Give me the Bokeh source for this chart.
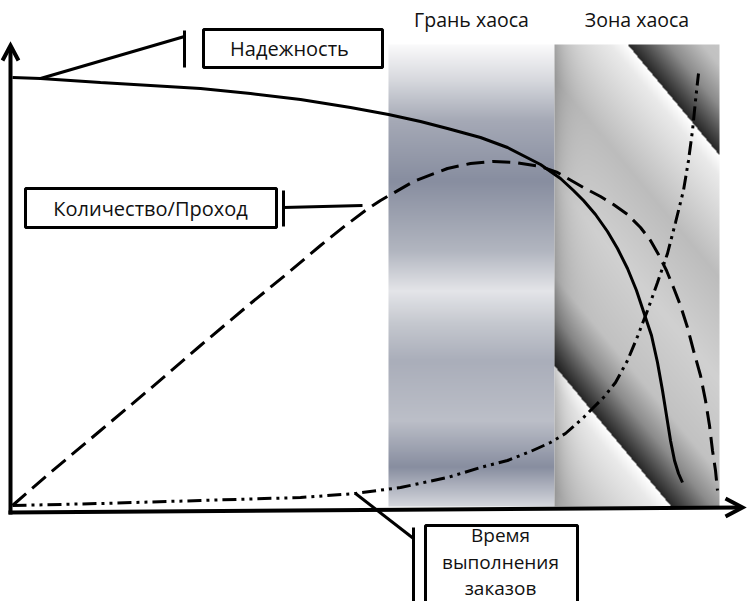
import numpy as np
from bokeh.plotting import figure
from bokeh.models import Range1d
from bokeh.embed import file_html
from bokeh.resources import INLINE
from bokeh.core.properties import value

# ---- data (conceptual units: x = load, y = level) ----
# Надежность (solid)
rel_x = [2, 30, 90, 140, 190, 240, 290, 340, 378, 410, 437, 470, 497, 530, 550, 563,
         573, 585, 597, 607, 617, 626, 634, 641, 647, 652, 656, 660, 664, 668, 672]
rel_y = [433, 432, 428, 425, 422, 417, 411, 403, 396, 389, 382, 373, 363, 346, 332, 320,
         310, 296, 279, 262, 242, 220, 196, 175, 148, 120, 95, 70, 50, 37, 28]
# Количество/Проход (dashed)
thr_x = [2, 40, 90, 140, 190, 240, 278, 310, 335, 355, 370, 403, 437, 460, 483, 505,
         530, 547, 573, 590, 603, 617, 630, 640, 648, 656, 663, 670, 677, 683, 690,
         695, 699, 702, 705, 707]
thr_y = [5, 38, 80, 122, 165, 207, 238, 265, 285, 300, 310, 329, 342, 347, 349, 348,
         344, 338, 323, 314, 306, 296, 283, 270, 256, 240, 223, 205, 183, 160, 135,
         110, 85, 60, 40, 20]
# Время выполнения заказов (dash-dot)
lt_x = [2, 90, 190, 290, 345, 390, 437, 470, 497, 520, 540, 555, 573, 593, 605, 617,
        627, 637, 647, 657, 665, 673, 678, 682, 685, 688]
lt_y = [5, 7, 10, 13, 17, 23, 33, 43, 50, 59, 68, 77, 93, 113, 128, 150,
        174, 200, 228, 257, 288, 320, 350, 380, 410, 437]

zone_labels = ["Грань хаоса", "Зона хаоса"]
zone_left = [378, 544]
zone_right = [544, 709]
zone_bottom = 4
zone_top = 466

W, H = 749, 601
p = figure(width=W, height=H, x_range=Range1d(-10, 739), y_range=Range1d(-91, 510),
           output_backend="svg", toolbar_location=None, min_border=0,
           x_axis_type=None, y_axis_type=None)
p.grid.visible = False
p.outline_line_color = None
p.background_fill_color = "white"
p.border_fill_color = "white"

# ---- zone 1 background: vertical banded gradient ----
w1 = zone_right[0] - zone_left[0]
h1 = zone_top - zone_bottom
stops_y = np.array([0, 36, 76, 136, 206, 246, 280, 316, 376, 422, 462])  # from top
stops_c = np.array([
    [250, 250, 251], [214, 216, 221], [165, 169, 182], [136, 142, 160], [178, 182, 192],
    [228, 229, 233], [196, 199, 206], [170, 174, 186], [188, 191, 200], [136, 142, 160],
    [214, 216, 222]])
ys = np.arange(h1)[::-1]  # row 0 is bottom
img1 = np.zeros((h1, w1), dtype=np.uint32)
v1 = img1.view(dtype=np.uint8).reshape((h1, w1, 4))
for ch in range(3):
    col = np.interp(ys, stops_y, stops_c[:, ch])
    v1[:, :, ch] = col[:, None].astype(np.uint8)
v1[:, :, 3] = 255
p.image_rgba(image=[img1], x=zone_left[0], y=zone_bottom, dw=w1, dh=h1)

# ---- zone 2 background: diagonal sawtooth bands ----
w2 = zone_right[1] - zone_left[1]
px = np.arange(w2)[None, :] + zone_left[1] + 10.0
py = 510.0 - (np.arange(h1)[:, None] + zone_bottom)
t = -0.77 * px + 0.64 * py
phi = np.mod((t + 454.0) / 262.0, 1.0)
prof_p = [0.0, 0.05, 0.3, 0.55, 0.78, 0.88, 0.96, 1.0]
prof_v = [1.0, 0.92, 0.74, 0.82, 0.76, 0.55, 0.28, 0.15]
val = np.interp(phi, prof_p, prof_v)
val = val * (1 - 0.2 * np.exp(-(px - (zone_left[1] + 10)) / 12.0))
g = np.clip(val * 255, 0, 255).astype(np.uint8)
img2 = np.zeros((h1, w2), dtype=np.uint32)
v2 = img2.view(dtype=np.uint8).reshape((h1, w2, 4))
v2[:, :, 0] = g
v2[:, :, 1] = g
v2[:, :, 2] = g
v2[:, :, 3] = 255
p.image_rgba(image=[img2], x=zone_left[1], y=zone_bottom, dw=w2, dh=h1)

FONT = value("Open Sans")
p.text(x=[(l + r) / 2 for l, r in zip(zone_left, zone_right)], y=[491, 491], text=zone_labels,
       text_align="center", text_baseline="middle", text_font=FONT,
       text_font_size=value("19.5px"), text_color="#111111")

# ---- axes with open arrowheads ----
p.line([0, 0], [-4, 463], line_color="black", line_width=4)
p.line([-8, 0, 8], [450, 465, 450], line_color="black", line_width=4, line_join="miter")
p.line([-2, 730], [-2, 3], line_color="black", line_width=4)
p.line([715, 732, 715], [12, 3, -6], line_color="black", line_width=4, line_join="miter")

# ---- curves ----
p.line(rel_x, rel_y, line_color="black", line_width=3)
p.line(thr_x, thr_y, line_color="black", line_width=3, line_dash="18 8")
p.line(lt_x, lt_y, line_color="black", line_width=3, line_dash="14 5 3 5 3 5")

# ---- callouts ----
box_left = [193, 15, 415]
box_right = [372, 266, 567]
box_top = [481, 322, -15]
box_bottom = [443, 283, -110]
p.quad(left=box_left, right=box_right, top=box_top, bottom=box_bottom,
       fill_color="white", line_color="black", line_width=3)

# leaders
p.line([30, 174], [432, 474], line_color="black", line_width=3)
p.line([174, 174], [480, 443], line_color="black", line_width=3)
p.line([273, 352], [303, 305], line_color="black", line_width=3)
p.line([273, 273], [320, 284], line_color="black", line_width=3)
p.line([345, 403], [17, -28], line_color="black", line_width=3)
p.line([403, 403], [-17, -100], line_color="black", line_width=3)

p.text(x=[279, 140], y=[462, 302], text=["Надежность", "Количество/Проход"],
       text_align="center", text_baseline="middle", text_font=FONT,
       text_font_size=value("20px"), text_color="#111111")
p.text(x=[490, 490, 490], y=[-24, -51, -77], text=["Время", "выполнения", "заказов"],
       text_align="center", text_baseline="middle", text_font=FONT,
       text_font_size=value("19px"), text_color="#111111")

open("out.html", "w").write(file_html(p, INLINE))
